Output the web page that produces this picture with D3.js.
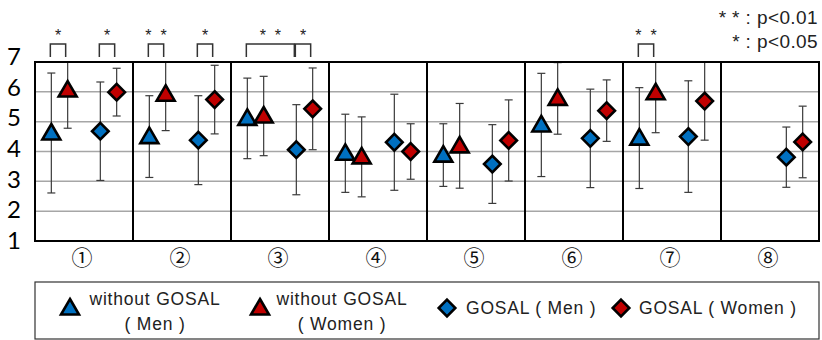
<!DOCTYPE html>
<html>
<head>
<meta charset="utf-8">
<script src="https://cdn.jsdelivr.net/npm/d3@7"></script>
<style>
  body { margin: 0; background: #fff; }
  svg { display: block; }
</style>
</head>
<body>
<div id="chart"></div>
<script>
// categories (items 1-8)
var categories = ["①", "②", "③", "④", "⑤", "⑥", "⑦", "⑧"];

// mean and SD per series, null = not measured
var triMenMean   = [4.62, 4.50, 5.11, 3.94, 3.88, 4.89, 4.45, null];
var triMenSd     = [2.01, 1.37, 1.35, 1.31, 1.05, 1.73, 1.69, null];
var triWomenMean = [6.06, 5.92, 5.19, 3.82, 4.19, 5.78, 5.97, null];
var triWomenSd   = [1.28, 1.22, 1.33, 1.34, 1.42, 1.20, 1.34, null];
var diaMenMean   = [4.68, 4.38, 4.06, 4.31, 3.58, 4.44, 4.50, 3.81];
var diaMenSd     = [1.65, 1.49, 1.51, 1.61, 1.32, 1.65, 1.87, 1.01];
var diaWomenMean = [5.99, 5.74, 5.43, 4.00, 4.37, 5.37, 5.69, 4.32];
var diaWomenSd   = [0.80, 1.15, 1.37, 0.93, 1.36, 1.03, 1.31, 1.20];

var yTicks = [1, 2, 3, 4, 5, 6, 7];

// significance brackets
var sigCategory = [0, 0, 1, 1, 2, 2, 6];
var sigFrom     = [0, 2, 0, 2, 0, 2, 0];
var sigTo       = [1, 3, 1, 3, 2, 3, 1];
var sigLabel    = ["*", "*", "* *", "*", "* *", "*", "* *"];

var pLegend = ["* * : p<0.01", "* : p<0.05"];
var seriesLabels = [["without GOSAL", "( Men )"], ["without GOSAL", "( Women )"], ["GOSAL ( Men )"], ["GOSAL ( Women )"]];

var width = 822, height = 340;
var margin = {left: 35, right: 3, top: 62, bottom: 99};

var svg = d3.select("#chart").append("svg")
  .attr("width", width)
  .attr("height", height);

var x = d3.scaleBand().domain(categories).range([margin.left, width - margin.right]);
// slot "gap" keeps the two pairs apart
var slot = d3.scalePoint().domain(["tm", "tw", "gap", "dm", "dw"]).range([0, x.bandwidth()]).padding(1);
var y = d3.scaleLinear().domain([1, 7]).range([height - margin.bottom, margin.top]);
var yLab = d3.scaleLinear().domain([1, 7]).range([240.5, 57]);

var series = [
  {key: "tm", mean: triMenMean, sd: triMenSd, shape: "tri", fill: "#0070c0"},
  {key: "tw", mean: triWomenMean, sd: triWomenSd, shape: "tri", fill: "#c00000"},
  {key: "dm", mean: diaMenMean, sd: diaMenSd, shape: "dia", fill: "#0070c0"},
  {key: "dw", mean: diaWomenMean, sd: diaWomenSd, shape: "dia", fill: "#c00000"}
];

var triPath = "M0,-9L9,6.5L-9,6.5Z";
var diaPath = "M0,-8.3L8.3,0L0,8.3L-8.3,0Z";

// grid lines
svg.append("g")
  .selectAll("line")
  .data(yTicks.filter(function(d) { return d > 1 && d < 7; }))
  .enter().append("line")
  .attr("x1", margin.left).attr("x2", width - margin.right)
  .attr("y1", function(d) { return y(d); })
  .attr("y2", function(d) { return y(d); })
  .attr("stroke", "#a6a6a6")
  .attr("stroke-width", 1.5);

// y axis labels
var yAxis = svg.append("g")
  .attr("transform", "translate(21,0)")
  .call(d3.axisLeft(yLab).tickValues(yTicks).tickSize(0).tickPadding(0).tickFormat(d3.format("d")));
yAxis.select(".domain").remove();
yAxis.selectAll("text")
  .attr("font-family", "Lato, 'Open Sans', sans-serif")
  .attr("font-size", 24)
  .attr("fill", "#000");

// x axis labels
var xAxis = svg.append("g")
  .attr("transform", "translate(-2," + (height - margin.bottom + 9) + ")")
  .call(d3.axisBottom(x).tickSize(0).tickPadding(0));
xAxis.select(".domain").remove();
xAxis.selectAll("text")
  .attr("font-family", "'Noto Sans CJK JP', sans-serif")
  .attr("font-size", 21)
  .attr("fill", "#111");

// clip for error bars
svg.append("clipPath").attr("id", "plotclip")
  .append("rect")
  .attr("x", margin.left).attr("y", margin.top)
  .attr("width", width - margin.left - margin.right)
  .attr("height", height - margin.top - margin.bottom);

var bars = svg.append("g").attr("clip-path", "url(#plotclip)");
var marks = svg.append("g");

series.forEach(function(s) {
  var pts = categories.map(function(c, i) {
    return {cx: x(c) + slot(s.key), m: s.mean[i], sd: s.sd[i]};
  }).filter(function(d) { return d.m != null; });

  var eb = bars.selectAll(null).data(pts).enter().append("g")
    .attr("stroke", "#3a3a3a").attr("stroke-width", 1.2);
  eb.append("line")
    .attr("x1", function(d) { return d.cx; }).attr("x2", function(d) { return d.cx; })
    .attr("y1", function(d) { return y(d.m + d.sd); })
    .attr("y2", function(d) { return y(d.m - d.sd); });
  eb.append("line")
    .attr("x1", function(d) { return d.cx - 4; }).attr("x2", function(d) { return d.cx + 4; })
    .attr("y1", function(d) { return y(d.m + d.sd); })
    .attr("y2", function(d) { return y(d.m + d.sd); });
  eb.append("line")
    .attr("x1", function(d) { return d.cx - 4; }).attr("x2", function(d) { return d.cx + 4; })
    .attr("y1", function(d) { return y(d.m - d.sd); })
    .attr("y2", function(d) { return y(d.m - d.sd); });

  marks.selectAll(null).data(pts).enter().append("path")
    .attr("d", s.shape == "tri" ? triPath : diaPath)
    .attr("transform", function(d) { return "translate(" + d.cx + "," + y(d.m) + ")"; })
    .attr("fill", s.fill)
    .attr("stroke", "#000")
    .attr("stroke-width", 2.6);
});

// frame + panel separators
svg.append("g")
  .selectAll("line")
  .data(categories.slice(1))
  .enter().append("line")
  .attr("x1", function(d) { return x(d); }).attr("x2", function(d) { return x(d); })
  .attr("y1", margin.top).attr("y2", height - margin.bottom)
  .attr("stroke", "#000").attr("stroke-width", 2);
svg.append("rect")
  .attr("x", margin.left).attr("y", margin.top)
  .attr("width", width - margin.left - margin.right)
  .attr("height", height - margin.top - margin.bottom)
  .attr("fill", "none").attr("stroke", "#000").attr("stroke-width", 2);

// significance brackets
var keys = ["tm", "tw", "dm", "dw"];
sigCategory.forEach(function(ci, i) {
  var x0 = x(categories[ci]) + slot(keys[sigFrom[i]]) - 1;
  var x1 = x(categories[ci]) + slot(keys[sigTo[i]]) - 2;
  svg.append("path")
    .attr("d", "M" + x0 + ",57V44H" + x1 + "V57")
    .attr("fill", "none").attr("stroke", "#333").attr("stroke-width", 1.5);
  svg.append("text")
    .attr("x", (x0 + x1) / 2).attr("y", 41)
    .attr("text-anchor", "middle")
    .attr("font-family", "'Liberation Sans', Arial, sans-serif")
    .attr("font-size", 16)
    .attr("fill", "#222")
    .style("white-space", "pre")
    .text(sigLabel[i].replace(" ", "  "));
});

// p-value note
svg.selectAll(".pnote").data(pLegend).enter().append("text")
  .attr("class", "pnote")
  .attr("x", 818).attr("y", function(d, i) { return 24 + i * 24; })
  .attr("text-anchor", "end")
  .attr("font-family", "'Liberation Sans', Arial, sans-serif")
  .attr("font-size", 19)
  .attr("letter-spacing", 0.4)
  .attr("fill", "#222")
  .style("white-space", "pre")
  .text(function(d) { return d; });

// legend
var lg = svg.append("g");
lg.append("rect")
  .attr("x", margin.left).attr("y", 282)
  .attr("width", width - margin.left - margin.right).attr("height", 57)
  .attr("fill", "none").attr("stroke", "#333").attr("stroke-width", 1.2);

var legMarkX = [70, 260, 447, 621];
var legTextX = [155, 342, 466, 639];
series.forEach(function(s, i) {
  lg.append("path")
    .attr("d", s.shape == "tri" ? triPath : diaPath)
    .attr("transform", "translate(" + legMarkX[i] + ",308)")
    .attr("fill", s.fill).attr("stroke", "#000").attr("stroke-width", 2.6);
  var lines = seriesLabels[i];
  var t = lg.append("text")
    .attr("font-family", "'Liberation Sans', Arial, sans-serif")
    .attr("font-size", 17.5)
    .attr("letter-spacing", 0.8)
    .attr("fill", "#222")
    .attr("text-anchor", lines.length > 1 ? "middle" : "start");
  lines.forEach(function(l, j) {
    t.append("tspan")
      .attr("x", legTextX[i])
      .attr("y", lines.length > 1 ? 305 + j * 25 : 314)
      .style("white-space", "pre")
      .text(l);
  });
});
</script>
</body>
</html>
